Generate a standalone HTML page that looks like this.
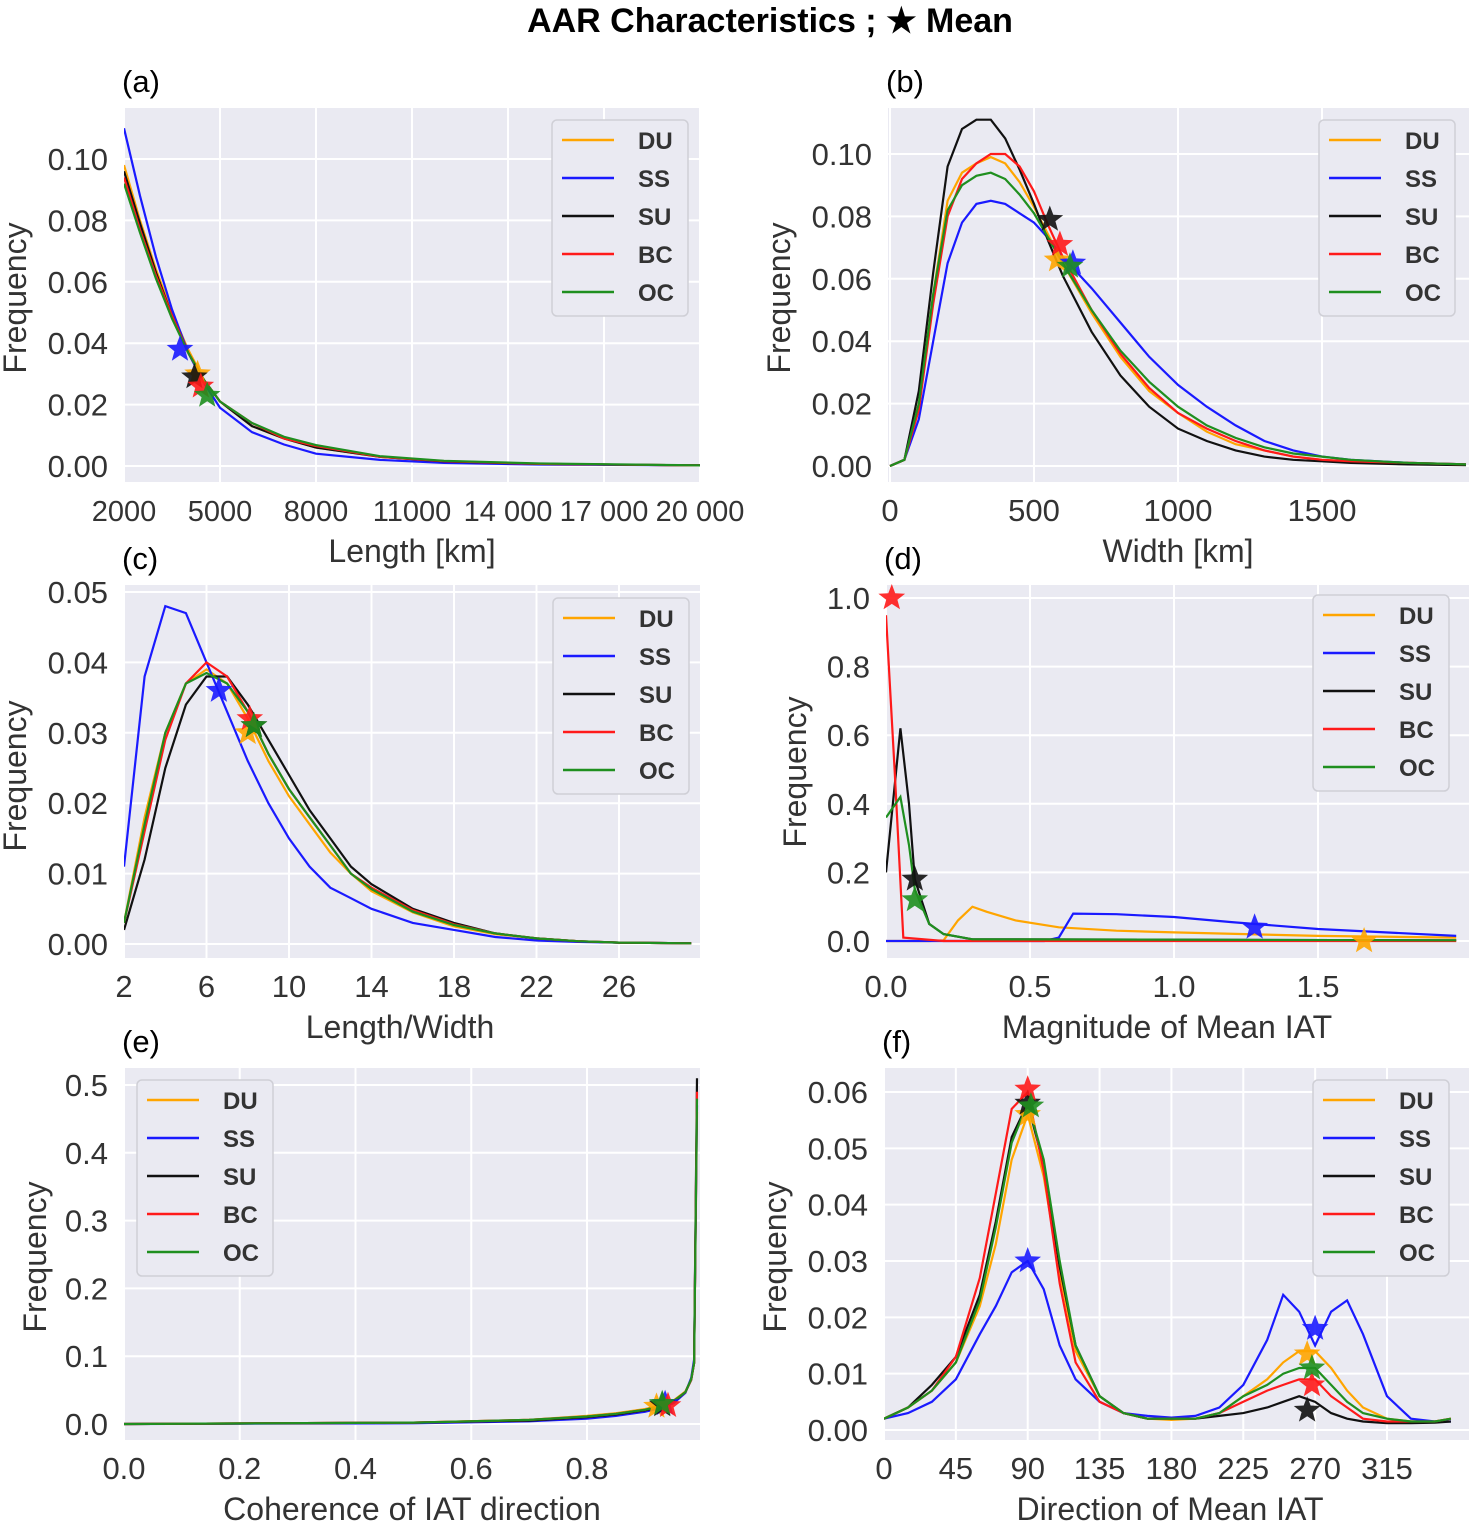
<!DOCTYPE html>
<html><head><meta charset="utf-8">
<style>
body{margin:0;background:#fff;width:1469px;height:1524px;overflow:hidden;font-family:"Liberation Sans",sans-serif}
svg{position:absolute;left:0;top:0}
</style></head>
<body>
<svg id="chart" width="1469" height="1524" viewBox="0 0 1469 1524" xmlns="http://www.w3.org/2000/svg">
<text x="770" y="32" text-anchor="middle" font-size="34" font-weight="bold" fill="#000">AAR Characteristics ; ★ Mean</text>
</svg>
<script>
const seriesNames=["DU","SS","SU","BC","OC"];
const seriesColors={DU:"#ffa500",SS:"#1a1aff",SU:"#111111",BC:"#ff1a1a",OC:"#1f8f1f"};

// (a) Length
const aX=[2000,2500,3000,3500,4000,4500,5000,6000,7000,8000,10000,12000,15000,20000];
const aDU=[0.098,0.080,0.064,0.050,0.038,0.028,0.021,0.013,0.009,0.006,0.003,0.0015,0.0007,0.0002];
const aSS=[0.110,0.088,0.068,0.051,0.037,0.027,0.019,0.011,0.007,0.004,0.002,0.001,0.0005,0.0002];
const aSU=[0.096,0.079,0.063,0.049,0.037,0.028,0.021,0.013,0.009,0.006,0.003,0.0015,0.0007,0.0002];
const aBC=[0.094,0.077,0.062,0.049,0.037,0.028,0.021,0.014,0.009,0.0065,0.003,0.0016,0.0007,0.0002];
const aOC=[0.092,0.076,0.061,0.048,0.037,0.028,0.021,0.014,0.0095,0.0068,0.0032,0.0017,0.0008,0.0002];
const aStars={SS:[3750,0.038],DU:[4300,0.030],SU:[4200,0.029],BC:[4400,0.026],OC:[4600,0.023]};

// (b) Width
const bX=[0,50,100,150,200,250,300,350,400,450,500,550,600,700,800,900,1000,1100,1200,1300,1400,1500,1600,1800,2000];
const bDU=[0,0.002,0.020,0.055,0.085,0.094,0.097,0.099,0.097,0.091,0.083,0.074,0.065,0.049,0.035,0.024,0.017,0.011,0.007,0.005,0.003,0.002,0.0015,0.001,0.0005];
const bSS=[0,0.002,0.015,0.040,0.065,0.078,0.084,0.085,0.084,0.081,0.078,0.073,0.067,0.057,0.046,0.035,0.026,0.019,0.013,0.008,0.005,0.003,0.002,0.001,0.0005];
const bSU=[0,0.002,0.024,0.062,0.096,0.108,0.111,0.111,0.105,0.095,0.084,0.072,0.061,0.043,0.029,0.019,0.012,0.008,0.005,0.003,0.002,0.0015,0.001,0.0005,0.0003];
const bBC=[0,0.002,0.018,0.052,0.080,0.092,0.097,0.100,0.100,0.096,0.088,0.077,0.067,0.050,0.036,0.025,0.017,0.012,0.008,0.005,0.003,0.002,0.0015,0.001,0.0005];
const bOC=[0,0.002,0.020,0.055,0.082,0.090,0.093,0.094,0.092,0.087,0.081,0.073,0.065,0.050,0.037,0.027,0.019,0.013,0.009,0.006,0.004,0.003,0.002,0.001,0.0005];
const bStars={SU:[555,0.079],BC:[590,0.071],DU:[580,0.066],SS:[635,0.065],OC:[625,0.064]};

// (c) Length/Width
const cX=[2,3,4,5,6,7,8,9,10,11,12,13,14,16,18,20,22,24,26,29.5];
const cDU=[0.003,0.018,0.030,0.037,0.039,0.037,0.032,0.026,0.021,0.017,0.013,0.010,0.0075,0.0045,0.0025,0.0014,0.0008,0.0004,0.0002,0.0001];
const cSS=[0.011,0.038,0.048,0.047,0.040,0.033,0.026,0.020,0.015,0.011,0.008,0.0065,0.005,0.003,0.002,0.001,0.0005,0.0003,0.0002,0.0001];
const cSU=[0.002,0.012,0.025,0.034,0.038,0.038,0.034,0.029,0.024,0.019,0.015,0.011,0.0085,0.005,0.003,0.0015,0.0008,0.0004,0.0002,0.0001];
const cBC=[0.003,0.016,0.029,0.037,0.040,0.038,0.033,0.027,0.022,0.018,0.014,0.010,0.008,0.0048,0.0028,0.0015,0.0008,0.0004,0.0002,0.0001];
const cOC=[0.003,0.017,0.030,0.037,0.0385,0.037,0.033,0.027,0.022,0.018,0.014,0.010,0.0078,0.0046,0.0027,0.0015,0.0008,0.0004,0.0002,0.0001];
const cStars={SS:[6.6,0.036],BC:[8.1,0.032],DU:[8.0,0.030],SU:[8.3,0.031],OC:[8.3,0.031]};

// (d) Magnitude of Mean IAT
const dDUx=[0,0.15,0.2,0.25,0.3,0.35,0.45,0.6,0.8,1.0,1.5,1.98];
const dDU=[0,0,0.002,0.06,0.10,0.085,0.06,0.04,0.03,0.025,0.015,0.01];
const dSSx=[0,0.55,0.6,0.65,0.8,1.0,1.2,1.5,1.98];
const dSS=[0,0,0.01,0.08,0.078,0.07,0.055,0.035,0.015];
const dSUx=[0,0.05,0.08,0.1,0.15,0.2,0.3,1.98];
const dSU=[0.2,0.62,0.4,0.18,0.05,0.02,0.005,0.002];
const dBCx=[0,0.03,0.06,0.2,1.98];
const dBC=[0.95,0.5,0.01,0,0];
const dOCx=[0,0.05,0.08,0.1,0.15,0.2,0.3,1.98];
const dOC=[0.36,0.42,0.28,0.15,0.05,0.02,0.005,0.002];
const dStars={BC:[0.02,1.0],SU:[0.1,0.18],OC:[0.1,0.12],SS:[1.28,0.04],DU:[1.66,0.0]};

// (e) Coherence
const eX=[0,0.5,0.7,0.8,0.85,0.9,0.93,0.95,0.97,0.98,0.985,0.99];
const eDU=[0,0.002,0.006,0.012,0.016,0.022,0.028,0.035,0.048,0.066,0.09,0.46];
const eSS=[0,0.001,0.004,0.008,0.012,0.018,0.024,0.031,0.046,0.068,0.095,0.47];
const eSU=[0,0.002,0.005,0.010,0.014,0.020,0.026,0.033,0.047,0.065,0.09,0.51];
const eBC=[0,0.002,0.006,0.011,0.015,0.021,0.027,0.034,0.047,0.065,0.09,0.49];
const eOC=[0,0.002,0.006,0.011,0.015,0.021,0.027,0.034,0.047,0.066,0.09,0.48];
const eStars={DU:[0.92,0.026],SS:[0.935,0.03],BC:[0.94,0.027],SU:[0.93,0.028],OC:[0.93,0.03]};

// (f) Direction
const fX=[0,15,30,45,60,70,80,90,100,110,120,135,150,165,180,195,210,225,240,250,260,270,280,290,300,315,330,345,355];
const fDU=[0.002,0.004,0.007,0.012,0.022,0.033,0.048,0.056,0.045,0.028,0.014,0.006,0.003,0.002,0.0018,0.002,0.003,0.006,0.009,0.012,0.014,0.014,0.011,0.007,0.004,0.002,0.0015,0.0015,0.002];
const fSS=[0.002,0.003,0.005,0.009,0.017,0.022,0.028,0.030,0.025,0.015,0.009,0.005,0.003,0.0025,0.0022,0.0025,0.004,0.008,0.016,0.024,0.021,0.015,0.021,0.023,0.017,0.006,0.002,0.0015,0.0015];
const fSU=[0.002,0.004,0.008,0.013,0.024,0.037,0.052,0.058,0.047,0.029,0.015,0.006,0.003,0.002,0.002,0.002,0.0025,0.003,0.004,0.005,0.006,0.005,0.003,0.002,0.0015,0.0012,0.0012,0.0013,0.0015];
const fBC=[0.002,0.004,0.007,0.013,0.027,0.042,0.057,0.060,0.046,0.026,0.012,0.005,0.003,0.002,0.002,0.002,0.003,0.005,0.007,0.008,0.009,0.009,0.006,0.004,0.002,0.0015,0.0015,0.0015,0.002];
const fOC=[0.002,0.004,0.007,0.012,0.023,0.036,0.051,0.058,0.048,0.030,0.015,0.006,0.003,0.002,0.002,0.002,0.003,0.006,0.008,0.010,0.011,0.011,0.008,0.005,0.003,0.002,0.0015,0.0015,0.002];
const fStars1={SS:[90,0.030],DU:[90,0.056],SU:[90,0.058],OC:[92,0.0575],BC:[90,0.0605]};
const fStars2={SS:[270,0.018],DU:[265,0.0135],OC:[268,0.011],BC:[268,0.008],SU:[265,0.0035]};

const NS="http://www.w3.org/2000/svg";
const svg=document.getElementById("chart");
function mk(tag,attrs,parent){const e=document.createElementNS(NS,tag);for(const k in attrs)e.setAttribute(k,attrs[k]);(parent||svg).appendChild(e);return e;}
function starPts(cx,cy,r){let p=[];for(let i=0;i<10;i++){const a=-Math.PI/2+i*Math.PI/5;const rr=i%2?r*0.42:r;p.push((cx+rr*Math.cos(a)).toFixed(1)+","+(cy+rr*Math.sin(a)).toFixed(1));}return p.join(" ");}

function panel(c){
  const g=mk("g",{});
  
  
  const sx=v=>c.px0+(v-c.x0)*(c.px1-c.px0)/(c.x1-c.x0);
  const sy=v=>c.py0+(v-c.y0)*(c.py1-c.py0)/(c.y1-c.y0);
  const bg=mk("rect",{x:c.L,y:c.T,width:c.R-c.L,height:c.B-c.T,fill:"#eaeaf2"},g);
  
  
  c.xt.forEach((t,i)=>{const x=sx(t);
    mk("line",{x1:x,x2:x,y1:c.T,y2:c.B,stroke:"#fff","stroke-width":2},g);
    const tx=mk("text",{x:x,y:c.B+39,"text-anchor":"middle","font-size":c.xfs||31,fill:"#333"},g);
    tx.textContent=c.xl[i];
    
    
  });
  c.yt.forEach((t,i)=>{const y=sy(t);
    mk("line",{x1:c.L,x2:c.R,y1:y,y2:y,stroke:"#fff","stroke-width":2},g);
    const ty=mk("text",{x:c.L-16,y:y+11,"text-anchor":"end","font-size":31,fill:"#333"},g);
    ty.textContent=c.yl[i];
    
    
  });
  const cp=mk("clipPath",{id:"clip"+c.id},g);
  mk("rect",{x:c.L,y:c.T-20,width:c.R-c.L,height:c.B-c.T+20},cp);
  seriesNames.forEach(n=>{
    const xs=c.xs[n],ys=c.ys[n];
    const d=xs.map((x,i)=>(i?"L":"M")+sx(x).toFixed(1)+","+sy(ys[i]).toFixed(1)).join("");
    const p=mk("path",{d:d,fill:"none",stroke:seriesColors[n],"stroke-width":2.2,"clip-path":"url(#clip"+c.id+")"},g);
    
    
  });
  c.stars.forEach(st=>{
    seriesNames.forEach(n=>{ if(!st[n])return;
      const s=mk("polygon",{points:starPts(sx(st[n][0]),sy(st[n][1]),14),fill:seriesColors[n],"fill-opacity":0.9},g);
      
      
    });
  });
  const pl=mk("text",{x:c.L-2,y:c.T-16,"font-size":31,fill:"#000"},g);
  pl.textContent="("+c.id+")";
  
  
  const xl=mk("text",{x:c.xlx,y:c.B+80,"text-anchor":"middle","font-size":32,fill:"#333"},g);
  xl.textContent=c.xlabel;
  
  
  const yl=mk("text",{x:0,y:0,"text-anchor":"middle","font-size":32,fill:"#333",transform:"translate("+c.ylx+","+c.yly+") rotate(-90)"},g);
  yl.textContent="Frequency";
  
  
  const lg=mk("g",{},g);
  
  
  mk("rect",{x:c.lx,y:c.ly,width:136,height:196,rx:5,fill:"#eaeaf2",stroke:"#cfcfd6","stroke-width":1.5},lg);
  seriesNames.forEach((n,i)=>{
    const y=c.ly+20+i*38;
    mk("line",{x1:c.lx+10,x2:c.lx+62,y1:y,y2:y,stroke:seriesColors[n],"stroke-width":2.5},lg);
    const t=mk("text",{x:c.lx+86,y:y+9,"font-size":24,"font-weight":"bold",fill:"#333"},lg);
    t.textContent=n;
    
    
  });
}

panel({id:"a",L:124,R:700,T:108,B:482,x0:2000,x1:20000,px0:124,px1:700,y0:0,y1:0.10,py0:466,py1:159,
  xt:[2000,5000,8000,11000,14000,17000,20000],xl:["2000","5000","8000","11000","14 000","17 000","20 000"],xfs:29,
  yt:[0,0.02,0.04,0.06,0.08,0.10],yl:["0.00","0.02","0.04","0.06","0.08","0.10"],
  xs:{DU:aX,SS:aX,SU:aX,BC:aX,OC:aX},ys:{DU:aDU,SS:aSS,SU:aSU,BC:aBC,OC:aOC},stars:[aStars],
  xlabel:"Length [km]",xlx:412,ylx:26,yly:298,lx:552,ly:120});
panel({id:"b",L:888,R:1469,T:108,B:482,x0:0,x1:1500,px0:890,px1:1322,y0:0,y1:0.10,py0:466,py1:154,
  xt:[0,500,1000,1500],xl:["0","500","1000","1500"],
  yt:[0,0.02,0.04,0.06,0.08,0.10],yl:["0.00","0.02","0.04","0.06","0.08","0.10"],
  xs:{DU:bX,SS:bX,SU:bX,BC:bX,OC:bX},ys:{DU:bDU,SS:bSS,SU:bSU,BC:bBC,OC:bOC},stars:[bStars],
  xlabel:"Width [km]",xlx:1178,ylx:790,yly:298,lx:1319,ly:120});
panel({id:"c",L:124,R:700,T:585,B:958,x0:2,x1:26,px0:124,px1:619,y0:0,y1:0.05,py0:944,py1:592,
  xt:[2,6,10,14,18,22,26],xl:["2","6","10","14","18","22","26"],
  yt:[0,0.01,0.02,0.03,0.04,0.05],yl:["0.00","0.01","0.02","0.03","0.04","0.05"],
  xs:{DU:cX,SS:cX,SU:cX,BC:cX,OC:cX},ys:{DU:cDU,SS:cSS,SU:cSU,BC:cBC,OC:cOC},stars:[cStars],
  xlabel:"Length/Width",xlx:400,ylx:26,yly:776,lx:553,ly:598});
panel({id:"d",L:886,R:1469,T:585,B:958,x0:0,x1:1.5,px0:886,px1:1318,y0:0,y1:1.0,py0:941,py1:598,
  xt:[0,0.5,1.0,1.5],xl:["0.0","0.5","1.0","1.5"],
  yt:[0,0.2,0.4,0.6,0.8,1.0],yl:["0.0","0.2","0.4","0.6","0.8","1.0"],
  xs:{DU:dDUx,SS:dSSx,SU:dSUx,BC:dBCx,OC:dOCx},ys:{DU:dDU,SS:dSS,SU:dSU,BC:dBC,OC:dOC},stars:[dStars],
  xlabel:"Magnitude of Mean IAT",xlx:1167,ylx:806,yly:772,lx:1313,ly:595});
panel({id:"e",L:124,R:700,T:1068,B:1440,x0:0,x1:0.8,px0:124,px1:587,y0:0,y1:0.5,py0:1424,py1:1085,
  xt:[0,0.2,0.4,0.6,0.8],xl:["0.0","0.2","0.4","0.6","0.8"],
  yt:[0,0.1,0.2,0.3,0.4,0.5],yl:["0.0","0.1","0.2","0.3","0.4","0.5"],
  xs:{DU:eX,SS:eX,SU:eX,BC:eX,OC:eX},ys:{DU:eDU,SS:eSS,SU:eSU,BC:eBC,OC:eOC},stars:[eStars],
  xlabel:"Coherence of IAT direction",xlx:412,ylx:46,yly:1257,lx:137,ly:1080});
panel({id:"f",L:884,R:1469,T:1068,B:1440,x0:0,x1:315,px0:884,px1:1387,y0:0,y1:0.06,py0:1430,py1:1092,
  xt:[0,45,90,135,180,225,270,315],xl:["0","45","90","135","180","225","270","315"],
  yt:[0,0.01,0.02,0.03,0.04,0.05,0.06],yl:["0.00","0.01","0.02","0.03","0.04","0.05","0.06"],
  xs:{DU:fX,SS:fX,SU:fX,BC:fX,OC:fX},ys:{DU:fDU,SS:fSS,SU:fSU,BC:fBC,OC:fOC},stars:[fStars1,fStars2],
  xlabel:"Direction of Mean IAT",xlx:1170,ylx:786,yly:1257,lx:1313,ly:1080});
</script>
</body></html>
